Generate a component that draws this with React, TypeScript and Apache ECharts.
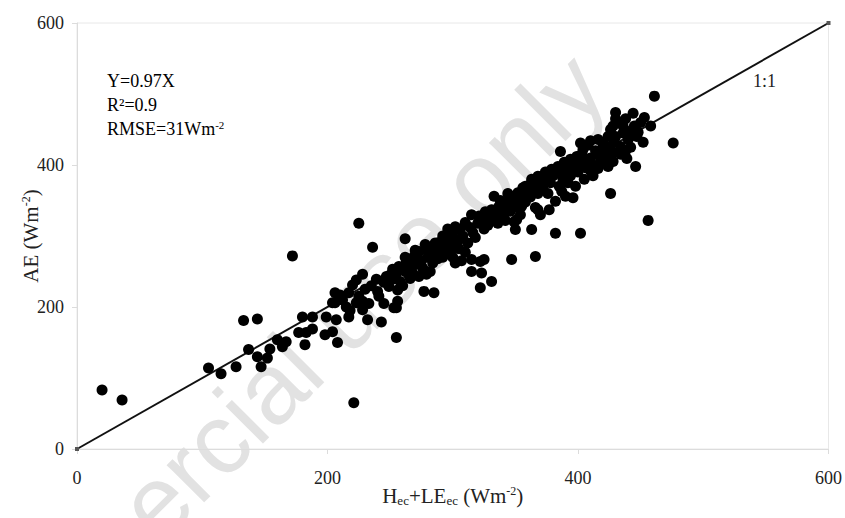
import React, { useEffect, useRef } from "react";
import * as echarts from "echarts";

const xTicks = [0, 200, 400, 600];
const oneToOne: number[][] = [[0, 0], [600, 600]];

const outlierPoints: number[][] = [
  [20, 83], [36, 69], [172, 272], [225, 318], [221, 65], [255, 157], [236, 284],
  [133, 181], [144, 183], [476, 431], [456, 322], [461, 497], [402, 304], [382, 304],
  [347, 267], [366, 271], [426, 360],
];

const lowPoints: number[][] = [
  [105, 114], [115, 106], [127, 116], [137, 140], [144, 130], [147, 116], [152, 128],
  [154, 141], [160, 154], [164, 144], [167, 151], [177, 164], [183, 164], [188, 169],
  [182, 147], [180, 186], [188, 186], [199, 186], [198, 161], [204, 165], [206, 206],
  [206, 220], [207, 182], [208, 150], [204, 206], [210, 217], [217, 220], [220, 231],
  [223, 238], [228, 246], [215, 200], [223, 206], [228, 208], [217, 186], [228, 196],
  [232, 182], [241, 215], [239, 239], [252, 239], [249, 229], [255, 248], [256, 224],
  [243, 179], [255, 199], [253, 199], [256, 208], [247, 243], [252, 253], [257, 257],
  [212, 210], [218, 195], [225, 215], [230, 225], [235, 230], [240, 222], [245, 235],
  [250, 245], [258, 236], [262, 250], [233, 205], [245, 205], [260, 230], [265, 245],
];

const midPoints: number[][] = [
  [263, 264], [269, 271], [273, 278], [279, 281], [283, 285], [289, 291], [294, 297],
  [299, 299], [302, 313], [310, 319], [315, 330], [321, 328], [262, 296], [277, 222],
  [285, 220], [273, 243], [279, 246], [310, 277], [315, 267], [322, 264], [325, 267],
  [315, 250], [323, 248], [331, 236], [322, 227], [265, 255], [270, 260], [275, 265],
  [280, 270], [285, 275], [290, 280], [295, 285], [300, 290], [305, 295], [268, 248],
  [276, 255], [284, 262], [292, 270], [298, 278], [305, 282], [312, 290], [318, 298],
  [286, 290], [292, 300], [300, 305], [306, 310], [314, 312], [320, 318], [270, 280],
  [278, 288], [296, 310], [308, 300], [316, 305], [325, 310], [330, 320], [288, 268],
  [282, 250], [300, 270], [262, 270], [266, 240], [302, 262], [307, 265],
  [326, 334], [331, 337], [337, 342], [342, 347], [347, 356], [352, 361], [358, 366],
  [363, 380], [368, 384], [374, 390], [333, 356], [350, 309], [363, 309], [368, 337],
  [370, 330], [351, 323], [355, 342], [349, 320], [358, 370], [363, 376], [368, 380],
  [379, 394], [374, 384], [366, 340], [377, 337], [382, 349], [325, 322], [330, 330],
  [335, 335], [340, 340], [345, 345], [350, 350], [355, 355], [360, 360], [365, 365],
  [370, 372], [375, 378], [328, 315], [334, 325], [340, 330], [346, 335], [352, 340],
  [358, 348], [362, 355], [368, 360], [372, 368], [378, 375], [336, 318], [342, 322],
  [354, 330], [338, 350], [344, 360], [356, 368], [366, 378], [372, 385], [380, 385],
  [376, 360], [385, 370],
];

const highPoints: number[][] = [
  [384, 398], [389, 404], [394, 408], [399, 412], [403, 415], [386, 419], [402, 431],
  [410, 434], [416, 436], [420, 426], [424, 398], [412, 385], [387, 363], [390, 356],
  [396, 354], [424, 440], [429, 432], [434, 426], [440, 436], [430, 474], [432, 460],
  [426, 450], [439, 409], [446, 398], [385, 388], [390, 392], [395, 395], [400, 400],
  [405, 405], [410, 410], [415, 415], [420, 418], [388, 380], [394, 385], [400, 390],
  [406, 396], [412, 400], [418, 405], [424, 412], [428, 418], [404, 422], [408, 428],
  [414, 420], [420, 432], [425, 425], [430, 440], [436, 445], [392, 375], [398, 370],
  [405, 380], [410, 392], [416, 395], [422, 403], [428, 405], [434, 415], [438, 420],
  [444, 473], [453, 467], [458, 455], [445, 455], [448, 446], [452, 432], [442, 448],
  [450, 460], [436, 455], [438, 465], [447, 440], [442, 425], [430, 465], [428, 455],
];

const serif = '"Liberation Serif", "Times New Roman", serif';

export default function App() {
  const ref = useRef<HTMLDivElement>(null);
  useEffect(() => {
    if (!ref.current) return;
    const chart = echarts.init(ref.current, undefined, { renderer: "svg" });
    const base = { fontFamily: serif, fontSize: 21, color: "#222" };
    const richName = {
      n: { ...base },
      sub: { fontFamily: serif, fontSize: 13, color: "#222", verticalAlign: "bottom", padding: [9, 0, 0, 0] },
      sup: { fontFamily: serif, fontSize: 12, color: "#222", verticalAlign: "top", padding: [0, 0, 9, 0] },
    };
    const richAnno = {
      n: { fontFamily: serif, fontSize: 18, color: "#222" },
      sup: { fontFamily: serif, fontSize: 11, color: "#222", verticalAlign: "top", padding: [0, 0, 8, 0] },
    };
    const axisCommon = {
      type: "value",
      min: 0,
      max: 600,
      interval: 200,
      splitLine: { show: false },
      axisLine: { show: true, lineStyle: { color: "#dcdcdc", width: 1 } },
      axisTick: { show: true, length: 5, lineStyle: { color: "#dcdcdc" } },
      nameLocation: "middle",
      nameMoveOverlap: false,
    };
    const dotStyle = { color: "#000", opacity: 1 };
    chart.setOption({
      animation: false,
      backgroundColor: "#fff",
      grid: { left: 77, right: 13, top: 23, bottom: 69, show: true, borderColor: "#e8e8e8", borderWidth: 1 },
      xAxis: {
        ...axisCommon,
        axisLabel: { fontFamily: serif, fontSize: 18, color: "#222", margin: 20, customValues: xTicks },
        name: "{n|H}{sub|ec}{n|+LE}{sub|ec}{n| (Wm}{sup|-2}{n|)}",
        nameGap: 36,
        nameTextStyle: { rich: richName },
      },
      yAxis: {
        ...axisCommon,
        axisLabel: { fontFamily: serif, fontSize: 18, color: "#222", margin: 13 },
        name: "{n|AE (Wm}{sup|-2}{n|)}",
        nameGap: 36,
        nameRotate: 90,
        nameTextStyle: { rich: richName },
      },
      graphic: [
        {
          type: "text",
          x: 265,
          y: 392,
          rotation: Math.PI / 4,
          z: 0,
          silent: true,
          style: {
            text: "commercial use only",
            fontSize: 100,
            fontFamily: '"Liberation Sans", Arial, sans-serif',
            fill: "#e2e2e2",
            textAlign: "center",
            textVerticalAlign: "middle",
          },
        },
        {
          type: "text",
          left: 107,
          top: 72,
          z: 10,
          style: { text: "{n|Y=0.97X}", rich: richAnno },
        },
        {
          type: "text",
          left: 107,
          top: 96,
          z: 10,
          style: { text: "{n|R²=0.9}", rich: richAnno },
        },
        {
          type: "text",
          left: 107,
          top: 119,
          z: 10,
          style: { text: "{n|RMSE=31Wm}{sup|-2}", rich: richAnno },
        },
        {
          type: "text",
          left: 753,
          top: 72,
          z: 10,
          style: { text: "1:1", fontSize: 18, fontFamily: serif, fill: "#222" },
        },
      ],
      series: [
        {
          type: "line",
          data: oneToOne,
          z: 3,
          lineStyle: { color: "#111", width: 2 },
          symbol: "rect",
          symbolSize: 4,
          itemStyle: { color: "#555" },
          showSymbol: true,
        },
        { type: "scatter", data: outlierPoints, symbolSize: 11, itemStyle: dotStyle, z: 4 },
        { type: "scatter", data: lowPoints, symbolSize: 11, itemStyle: dotStyle, z: 4 },
        { type: "scatter", data: midPoints, symbolSize: 11, itemStyle: dotStyle, z: 4 },
        { type: "scatter", data: highPoints, symbolSize: 11, itemStyle: dotStyle, z: 4 },
      ],
    });
    return () => chart.dispose();
  }, []);
  return <div ref={ref} style={{ width: 845, height: 518, position: "absolute", left: 0, top: 0 }} />;
}
